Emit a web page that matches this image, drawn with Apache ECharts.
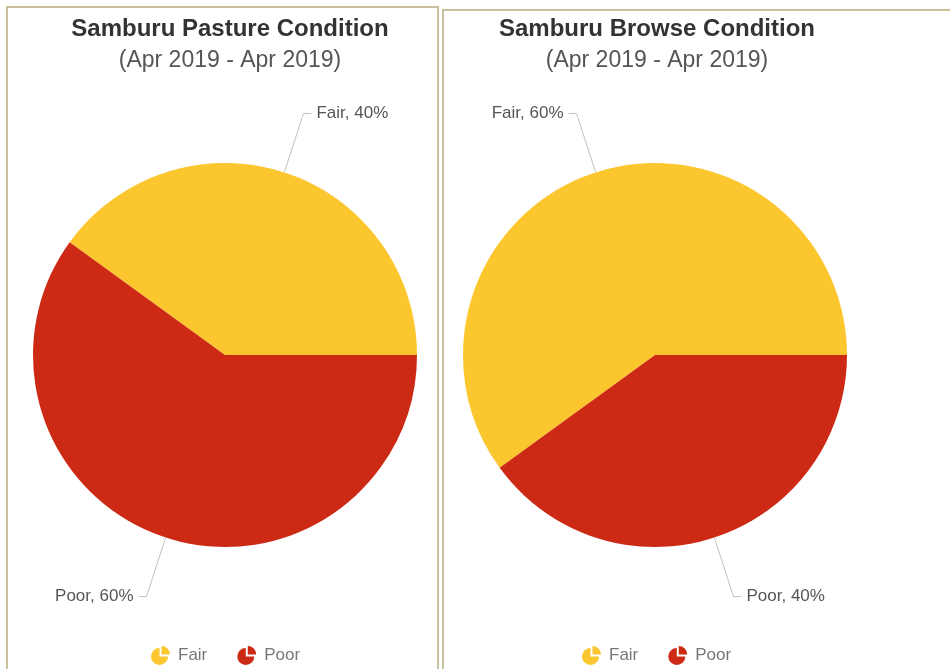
<!DOCTYPE html>
<html>
<head>
<meta charset="utf-8">
<script src="https://cdn.jsdelivr.net/npm/echarts@6/dist/echarts.min.js"></script>
<style>
  html, body { margin: 0; padding: 0; background: #fff; }
  #chart { width: 950px; height: 669px; }
</style>
</head>
<body>
<div id="chart"></div>
<script>
// condition categories and shares (%) per panel
const categories = ["Fair", "Poor"];
const pastureValues = [40, 60];
const browseValues = [60, 40];
const titles = ["Samburu Pasture Condition", "Samburu Browse Condition"];
const subtitle = "(Apr 2019 - Apr 2019)";
const colors = ["#fcc72e", "#cc2a14"];

const font = "Liberation Sans, Arial, sans-serif";
// little pie glyph used as legend marker
const pieIcon = "path://M45,55 L45,12 A43,43 0 1,0 88,55 Z M55,45 L55,2 A43,43 0 0,1 98,45 Z";

const chart = echarts.init(document.getElementById("chart"), null, { renderer: "canvas" });

function pieSeries(values, cx) {
  return {
    type: "pie",
    center: [cx, 355],
    radius: 192,
    startAngle: 0,
    clockwise: false,
    silent: true,
    itemStyle: { borderWidth: 0 },
    label: {
      formatter: "{b}, {d}%",
      fontFamily: font,
      fontSize: 17,
      color: "#555",
    },
    labelLine: {
      length: 62,
      length2: 8,
      lineStyle: { color: "#bbc4cc", width: 1 },
    },
    data: categories.map((name, i) => ({ name, value: values[i] })),
  };
}

function legendAt(left) {
  return {
    data: categories,
    left: left,
    top: 641,
    icon: pieIcon,
    itemWidth: 19,
    itemHeight: 19,
    itemGap: 30,
    selectedMode: false,
    textStyle: { fontFamily: font, fontSize: 17, color: "#777", padding: [0, 0, 0, 3] },
  };
}

function titleAt(text, cx) {
  return {
    text, subtext: subtitle, left: cx, top: 12, textAlign: "center", itemGap: 8,
    textStyle: { fontFamily: font, fontSize: 24, fontWeight: "bold", color: "#333" },
    subtextStyle: { fontFamily: font, fontSize: 23, color: "#555" },
  };
}

chart.setOption({
  backgroundColor: "#fff",
  color: colors,
  animation: false,
  title: [titleAt(titles[0], 225), titleAt(titles[1], 652)],
  legend: [legendAt(146), legendAt(577)],
  graphic: [
    { type: "rect", shape: { x: 7, y: 7, width: 431, height: 680 }, style: { fill: "none", stroke: "#c9c19b", lineWidth: 2 }, silent: true },
    { type: "rect", shape: { x: 443, y: 10, width: 520, height: 680 }, style: { fill: "none", stroke: "#c9c19b", lineWidth: 2 }, silent: true },
  ],
  series: [pieSeries(pastureValues, 225), pieSeries(browseValues, 655)],
});

window.addEventListener("resize", () => chart.resize());
</script>
</body>
</html>
